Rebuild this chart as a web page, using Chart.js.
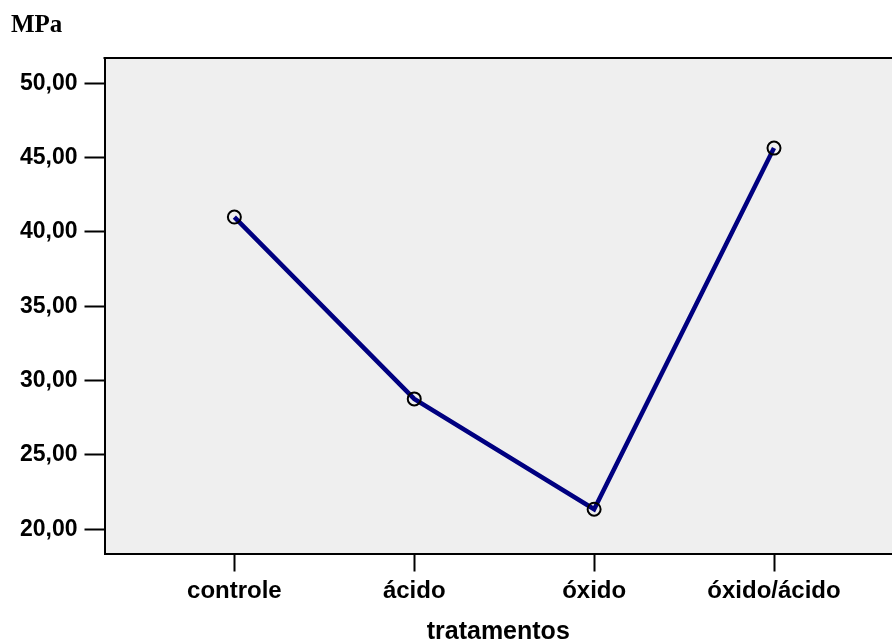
<!DOCTYPE html>
<html>
<head>
<meta charset="utf-8">
<script src="https://cdn.jsdelivr.net/npm/chart.js@4/dist/chart.umd.min.js"></script>
<style>
html,body{margin:0;padding:0;background:#fff;}
#wrap{width:892px;height:641px;}
</style>
</head>
<body>
<div id="wrap"><canvas id="c" width="892" height="641"></canvas></div>
<script>
const categories = ['controle', 'ácido', 'óxido', 'óxido/ácido'];
const mpaValues = [41.0, 28.77, 21.35, 45.64];
const yTickValues = [20, 25, 30, 35, 40, 45, 50];
const yAxisLabel = 'MPa';
const xAxisLabel = 'tratamentos';

const points = mpaValues.map((v, i) => ({ x: i + 1, y: v }));

const plotFrame = {
  id: 'plotFrame',
  beforeDraw(chart) {
    const { ctx, chartArea: a } = chart;
    ctx.save();
    ctx.fillStyle = '#efefef';
    ctx.fillRect(a.left, a.top, a.right - a.left, a.bottom - a.top);
    ctx.strokeStyle = '#000';
    ctx.lineWidth = 2;
    ctx.beginPath();
    ctx.moveTo(a.right + 2, a.top);
    ctx.lineTo(a.left - 1, a.top);
    ctx.stroke();
    ctx.restore();
  },
  afterDraw(chart) {
    const { ctx, chartArea: a } = chart;
    ctx.save();
    ctx.fillStyle = '#000';
    ctx.font = 'bold 25px "Liberation Serif", "Times New Roman", serif';
    ctx.textAlign = 'left';
    ctx.textBaseline = 'alphabetic';
    ctx.fillText(yAxisLabel, a.left - 93.5, a.top - 26);
    ctx.restore();
  }
};

const fmt = v => v.toFixed(2).replace('.', ',');

new Chart(document.getElementById('c'), {
  type: 'line',
  data: {
    datasets: [{
      data: points,
      borderColor: '#000080',
      borderWidth: 4.5,
      pointRadius: 6.5,
      pointHoverRadius: 6.5,
      pointBorderColor: '#000',
      pointBorderWidth: 2,
      pointBackgroundColor: 'rgba(0,0,0,0)',
      tension: 0,
      fill: false
    }]
  },
  options: {
    responsive: false,
    devicePixelRatio: 1,
    animation: false,
    layout: { autoPadding: false, padding: { top: 58, right: 0, bottom: 0, left: 0 } },
    plugins: { legend: { display: false }, tooltip: { enabled: false } },
    scales: {
      x: {
        type: 'linear',
        min: 0.278,
        max: 4.656,
        afterBuildTicks(scale) { scale.ticks = categories.map((c, i) => ({ value: i + 1 })); },
        afterFit(scale) { scale.height = 87.5; },
        ticks: {
          callback: (v) => categories[Math.round(v) - 1] || '',
          color: '#000',
          font: { family: '"Liberation Sans", Arial, sans-serif', weight: 'bold', size: 24 },
          padding: 5,
          maxRotation: 0,
          autoSkip: false
        },
        grid: { drawOnChartArea: false, drawTicks: true, tickLength: 18, tickWidth: 2, tickColor: '#000' },
        border: { display: true, color: '#000', width: 2 },
        title: {
          display: true,
          text: xAxisLabel,
          color: '#000',
          font: { family: '"Liberation Sans", Arial, sans-serif', weight: 'bold', size: 25, lineHeight: 0.72 },
          padding: { top: 0, bottom: 0 }
        }
      },
      y: {
        type: 'linear',
        min: 18.37,
        max: 51.70,
        afterBuildTicks(scale) { scale.ticks = yTickValues.map(v => ({ value: v })); },
        afterFit(scale) { scale.width = 104.5; },
        ticks: {
          callback: (v) => fmt(v),
          color: '#000',
          font: { family: '"Liberation Sans", Arial, sans-serif', weight: 'bold', size: 23 },
          padding: 7
        },
        grid: { drawOnChartArea: false, drawTicks: true, tickLength: 20, tickWidth: 2, tickColor: '#000' },
        border: { display: true, color: '#000', width: 2 }
      }
    }
  },
  plugins: [plotFrame]
});
</script>
</body>
</html>
